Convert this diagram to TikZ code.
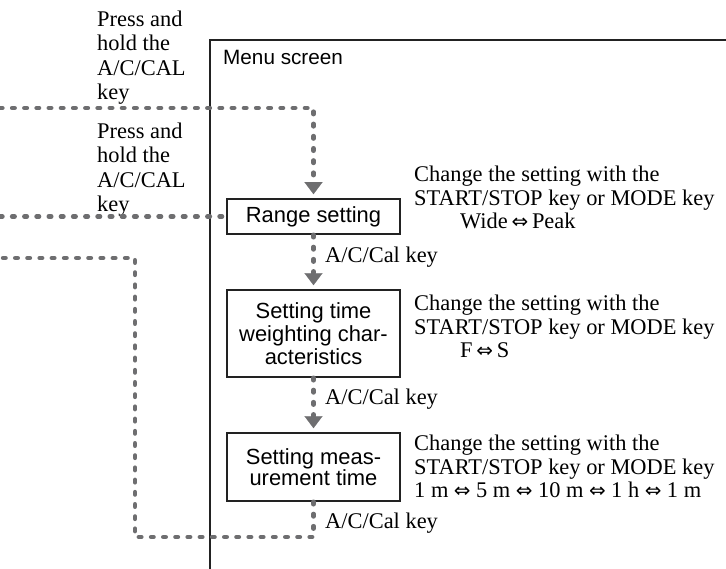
\documentclass[tikz,border=0pt]{standalone}
\usepackage{fontspec}
\setmainfont{Liberation Serif}
\newfontfamily\sansf{Liberation Sans}
\newfontfamily\symf{DejaVu Sans}
\usetikzlibrary{arrows.meta}
\definecolor{dotgray}{HTML}{6E6E70}
\definecolor{framek}{HTML}{222222}
\newcommand{\dblarrow}{{\symf\fontsize{20}{20}\selectfont ⇔}}
\newcommand{\wdarrow}{\hspace{5.5bp}\dblarrow\hspace{5.5bp}}
\tikzset{
  dotline/.style={draw=dotgray, line width=4.6bp, line cap=round, dash pattern=on 2.4bp off 9.8bp},
  dottip/.style={-{Triangle[width=18bp,length=12bp,line width=0.1bp,fill=dotgray,color=dotgray]}, shorten >=4bp},
  frameline/.style={draw=framek, line width=1.8bp},
  stepbox/.style={draw=framek, line width=1.6bp, fill=white, minimum width=173bp, inner sep=0pt, align=center, font=\sansf\fontsize{22}{23}\selectfont},
  serifnote/.style={anchor=north west, inner sep=0pt, align=left, font=\fontsize{22.5}{23.5}\selectfont},
  keylabel/.style={anchor=base west, inner sep=0pt, font=\fontsize{22.5}{24}\selectfont},
}
\begin{document}
\begin{tikzpicture}[x=1bp,y=-1bp]
\useasboundingbox (0,0) rectangle (726,569);
% menu frame
\coordinate (fb) at (210,569);
\coordinate (fc) at (210,40);
\coordinate (fr) at (726,40);
\draw[frameline] (fb) -- (fc) -- (fr);
\node[anchor=base west, inner sep=0pt, font=\sansf\fontsize{20.8}{22}\selectfont] (menu) at (223,65) {Menu screen};

% boxes
\node[stepbox, minimum height=35bp] (range) at (313.5,216.5) {Range setting};
\node[stepbox, minimum height=87bp] (time) at (313.5,333.5) {Setting time\\weighting char-\\acteristics};
\node[stepbox, minimum height=68bp, font=\sansf\fontsize{22}{21.5}\selectfont] (meas) at (313.5,467) {Setting meas-\\urement time};

% left texts
\node[serifnote, font=\fontsize{22.5}{24.3}\selectfont] (press1) at (97,11) {Press and\\hold the\\A/C/CAL\\key};
\node[serifnote, font=\fontsize{22.5}{24.3}\selectfont] (press2) at (97,123) {Press and\\hold the\\A/C/CAL\\key};

% right notes
\node[serifnote] (note1) at (414,166) {Change the setting with the\\START/STOP key or MODE key\\\hspace*{46bp}Wide\,\dblarrow\,Peak};
\node[serifnote] (note2) at (414,295) {Change the setting with the\\START/STOP key or MODE key\\\hspace*{46bp}F\,\dblarrow\,S};
\node[serifnote] (note3) at (414,435) {Change the setting with the\\START/STOP key or MODE key\\1 m\wdarrow 5 m\wdarrow 10 m\wdarrow 1 h\wdarrow 1 m};

% dotted connectors
\coordinate (a0) at (0,108);
\draw[dotline, dottip] (a0) -- (range.north |- a0) -- (range.north);
\coordinate (b0) at (0,216.5);
\draw[dotline] (b0) -- (range.west);
\draw[dotline, dottip] (range.south) -- (time.north);
\draw[dotline, dottip] (time.south) -- (meas.north);
\coordinate (c1) at (135,537);
\coordinate (c0) at (0,258);
\draw[dotline] (meas.south) |- (c1) |- (c0);

% key labels
\node[keylabel] (k1) at (325,262) {A/C/Cal key};
\node[keylabel] (k2) at (325,404) {A/C/Cal key};
\node[keylabel] (k3) at (325,528) {A/C/Cal key};
\end{tikzpicture}
\end{document}
